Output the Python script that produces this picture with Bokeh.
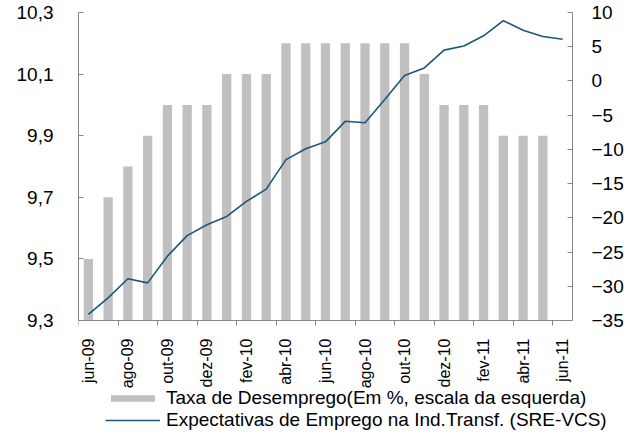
import math
from bokeh.plotting import figure
from bokeh.models import (Range1d, LinearAxis, FixedTicker, Legend, LegendItem,
                          ColumnDataSource, CustomJSTickFormatter)
from bokeh.embed import file_html
from bokeh.resources import INLINE

# ---- data ----
months = ["jun-09", "jul-09", "ago-09", "set-09", "out-09", "nov-09", "dez-09",
          "jan-10", "fev-10", "mar-10", "abr-10", "mai-10", "jun-10", "jul-10",
          "ago-10", "set-10", "out-10", "nov-10", "dez-10", "jan-11", "fev-11",
          "mar-11", "abr-11", "mai-11", "jun-11"]
desemprego = [9.5, 9.7, 9.8, 9.9, 10.0, 10.0, 10.0, 10.1, 10.1, 10.1, 10.2, 10.2,
              10.2, 10.2, 10.2, 10.2, 10.2, 10.1, 10.0, 10.0, 10.0, 9.9, 9.9, 9.9,
              float("nan")]
expectativas = [-34.1, -31.7, -28.9, -29.5, -25.6, -22.6, -21.0, -19.8, -17.6,
                -15.8, -11.5, -9.9, -8.9, -5.9, -6.1, -2.7, 0.8, 1.9, 4.5, 5.1,
                6.6, 8.8, 7.4, 6.5, 6.1]
left_min, left_max = 9.3, 10.3
right_min, right_max = -35, 10
left_ticks = [9.3, 9.5, 9.7, 9.9, 10.1, 10.3]
right_ticks = [-35, -30, -25, -20, -15, -10, -5, 0, 5, 10]
label_bar = "Taxa de Desemprego(Em %, escala da esquerda)"
label_line = "Expectativas de Emprego na Ind.Transf. (SRE-VCS)"

n = len(months)
idx = list(range(n))
src = ColumnDataSource(dict(x=idx, bar=desemprego, line=expectativas))

FONT = "Liberation Sans"
AX = "#868686"
BAR_COLOR = "#c0c0c0"
LINE_COLOR = "#1b5778"

# ---- layout geometry (pixels) ----
W, H = 624, 431
plot_left, plot_right, plot_top, plot_bottom = 78, 572, 12, 320
frame_w = W - plot_left
x_scale = (plot_right - plot_left) / n                 # px per category
x_lo = -0.5
x_hi = x_lo + frame_w / x_scale
yl_scale = (plot_bottom - plot_top) / (left_max - left_min)
yl_lo = left_min - (H - plot_bottom) / yl_scale
yl_hi = left_max + plot_top / yl_scale
yr_scale = (plot_bottom - plot_top) / (right_max - right_min)
yr_lo = right_min - (H - plot_bottom) / yr_scale
yr_hi = right_max + plot_top / yr_scale

p = figure(width=W, height=H, output_backend="svg", toolbar_location=None,
           x_range=Range1d(x_lo, x_hi), y_range=Range1d(yl_lo, yl_hi),
           min_border_left=plot_left, min_border_right=0, min_border_top=0,
           min_border_bottom=0)
p.outline_line_color = None
p.xgrid.visible = False
p.ygrid.visible = False
p.xaxis.visible = False
p.yaxis.visible = False
p.background_fill_color = "white"
p.border_fill_color = "white"

p.extra_y_ranges = {"right": Range1d(yr_lo, yr_hi)}

bars = p.vbar(x="x", top="bar", bottom=left_min, width=0.47, source=src,
              fill_color=BAR_COLOR, line_color=None)
line = p.line(x="x", y="line", source=src, y_range_name="right",
              line_color=LINE_COLOR, line_width=1.6)

# bottom axis (labels every 2 months, tick marks between the pairs)
xax = LinearAxis(ticker=FixedTicker(ticks=list(range(0, n, 2)),
                                    minor_ticks=[i - 0.5 for i in range(0, n, 2)]),
                 major_label_overrides={i: months[i] for i in range(0, n, 2)},
                 fixed_location=left_min, bounds=(-0.5, n - 0.5))
xax.major_label_orientation = math.pi / 2
xax.major_tick_line_color = None
xax.major_tick_out = 0
xax.major_tick_in = 0
xax.minor_tick_line_color = AX
xax.minor_tick_out = 5
xax.minor_tick_in = 0
xax.axis_line_color = AX
xax.major_label_standoff = 13
xax.major_label_text_font = FONT
xax.major_label_text_font_size = "16px"
xax.major_label_text_color = "black"
p.add_layout(xax, "below")

# left axis
yl = LinearAxis(ticker=FixedTicker(ticks=left_ticks), bounds=(left_min, left_max),
                formatter=CustomJSTickFormatter(code="return tick.toFixed(1).replace('.', ',');"))
yl.axis_line_color = AX
yl.major_tick_line_color = AX
yl.major_tick_in = 5
yl.major_tick_out = 0
yl.minor_tick_line_color = None
yl.major_label_standoff = 25
yl.major_label_text_font = FONT
yl.major_label_text_font_size = "19px"
yl.major_label_text_color = "black"
p.add_layout(yl, "left")

# right axis
yr = LinearAxis(y_range_name="right", ticker=FixedTicker(ticks=right_ticks),
                bounds=(right_min, right_max), fixed_location=n - 0.5)
yr.axis_line_color = AX
yr.major_tick_line_color = AX
yr.major_tick_in = 5
yr.major_tick_out = 0
yr.minor_tick_line_color = None
yr.major_label_standoff = 19
yr.major_label_text_font = FONT
yr.major_label_text_font_size = "19px"
yr.major_label_text_color = "black"
p.add_layout(yr, "right")

legend = Legend(items=[LegendItem(label=label_bar, renderers=[bars]),
                       LegendItem(label=label_line, renderers=[line])],
                location=(27, 0), orientation="vertical")
legend.glyph_width = 55
legend.glyph_height = 8
legend.label_standoff = 6
legend.label_text_font = FONT
legend.label_text_font_size = "19px"
legend.label_text_color = "black"
legend.label_height = 10
legend.spacing = -2
legend.padding = 0
legend.margin = 0
legend.border_line_color = None
legend.background_fill_alpha = 0
p.add_layout(legend, "center")

open("out.html", "w").write(file_html(p, INLINE))
